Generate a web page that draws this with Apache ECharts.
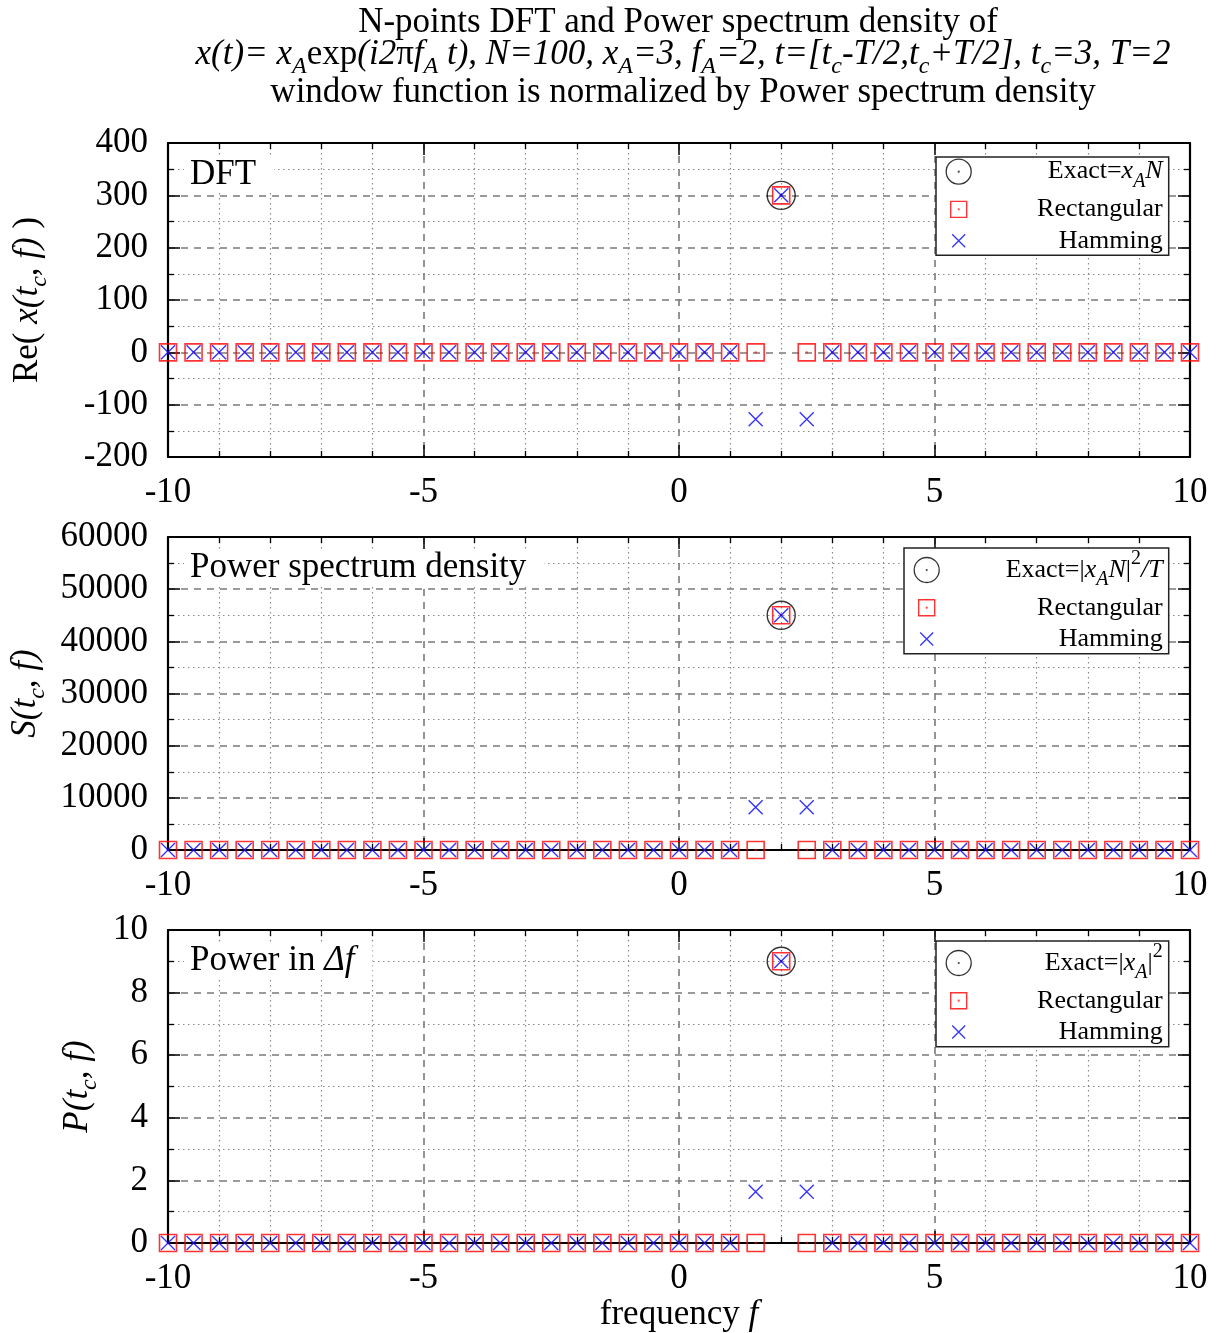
<!DOCTYPE html>
<html>
<head>
<meta charset="utf-8">
<title>N-points DFT and Power spectrum density</title>
<script src="https://cdn.jsdelivr.net/npm/echarts@6.0.0/dist/echarts.min.js"></script>
<style>
  html, body { margin: 0; padding: 0; background: #fff; }
  #chart { width: 1220px; height: 1333px; }
</style>
</head>
<body>
<div id="chart"></div>
<script>
// frequency samples (f = -10 ... 10, step 0.5)
const freq = [
  -10, -9.5, -9, -8.5, -8, -7.5, -7, -6.5, -6, -5.5,
  -5, -4.5, -4, -3.5, -3, -2.5, -2, -1.5, -1, -0.5,
  0, 0.5, 1, 1.5, 2, 2.5, 3, 3.5, 4, 4.5,
  5, 5.5, 6, 6.5, 7, 7.5, 8, 8.5, 9, 9.5,
  10
];

// exact values (only at f = f_A)
const exactFreq = [2];
const dftExact = [300];
const psdExact = [45000];
const powerExact = [9];

// Re( x(t_c, f) )
const dftRect = [
  0, 0, 0, 0, 0, 0, 0, 0, 0, 0,
  0, 0, 0, 0, 0, 0, 0, 0, 0, 0,
  0, 0, 0, 0, 300, 0, 0, 0, 0, 0,
  0, 0, 0, 0, 0, 0, 0, 0, 0, 0,
  0
];
const dftHamming = [
  0, 0, 0, 0, 0, 0, 0, 0, 0, 0,
  0, 0, 0, 0, 0, 0, 0, 0, 0, 0,
  0, 0, 0, -128, 300, -128, 0, 0, 0, 0,
  0, 0, 0, 0, 0, 0, 0, 0, 0, 0,
  0
];

// S(t_c, f)
const psdRect = [
  0, 0, 0, 0, 0, 0, 0, 0, 0, 0,
  0, 0, 0, 0, 0, 0, 0, 0, 0, 0,
  0, 0, 0, 0, 45000, 0, 0, 0, 0, 0,
  0, 0, 0, 0, 0, 0, 0, 0, 0, 0,
  0
];
const psdHamming = [
  0, 0, 0, 0, 0, 0, 0, 0, 0, 0,
  0, 0, 0, 0, 0, 0, 0, 0, 0, 0,
  0, 0, 0, 8190, 45000, 8190, 0, 0, 0, 0,
  0, 0, 0, 0, 0, 0, 0, 0, 0, 0,
  0
];

// P(t_c, f)
const powerRect = [
  0, 0, 0, 0, 0, 0, 0, 0, 0, 0,
  0, 0, 0, 0, 0, 0, 0, 0, 0, 0,
  0, 0, 0, 0, 9, 0, 0, 0, 0, 0,
  0, 0, 0, 0, 0, 0, 0, 0, 0, 0,
  0
];
const powerHamming = [
  0, 0, 0, 0, 0, 0, 0, 0, 0, 0,
  0, 0, 0, 0, 0, 0, 0, 0, 0, 0,
  0, 0, 0, 1.64, 9, 1.64, 0, 0, 0, 0,
  0, 0, 0, 0, 0, 0, 0, 0, 0, 0,
  0
];

// tick labels
const xTicks = [-10, -5, 0, 5, 10];
const dftTicks = [-200, -100, 0, 100, 200, 300, 400];
const psdTicks = [0, 10000, 20000, 30000, 40000, 50000, 60000];
const powerTicks = [0, 2, 4, 6, 8, 10];

const FONT = '"Liberation Serif", "Times New Roman", serif';

// marker shapes
const circleSym = 'path://M24,12A12,12,0,1,1,0,12A12,12,0,1,1,24,12ZM12.35,12A0.35,0.35,0,1,1,11.65,12A0.35,0.35,0,1,1,12.35,12Z';
const squareSym = 'path://M0,0L10,0L10,10L0,10ZM5.2,5A0.2,0.2,0,1,1,4.8,5A0.2,0.2,0,1,1,5.2,5Z';
const crossSym = 'path://M0,0L10,10M10,0L0,10';
// legend icons (padded into a 26x26 box)
const circleIcon = 'path://M0,0M26,26M25.5,13A12.5,12.5,0,1,1,0.5,13A12.5,12.5,0,1,1,25.5,13ZM13.4,13A0.4,0.4,0,1,1,12.6,13A0.4,0.4,0,1,1,13.4,13Z';
const squareIcon = 'path://M0,0M26,26M5,5L21,5L21,21L5,21ZM13.4,13A0.4,0.4,0,1,1,12.6,13A0.4,0.4,0,1,1,13.4,13Z';
const crossIcon = 'path://M0,0M26,26M6.5,6.5L19.5,19.5M19.5,6.5L6.5,19.5';

// sub/superscripts: bottom/top aligned tokens nudged with a negative padding
const richBig = {
  r: { fontFamily: FONT, fontSize: 35, lineHeight: 44, color: '#000' },
  i: { fontFamily: FONT, fontSize: 35, fontStyle: 'italic', lineHeight: 44, color: '#000' },
  s: { fontFamily: FONT, fontSize: 24, fontStyle: 'italic', lineHeight: 10, verticalAlign: 'bottom', padding: [0, 0, -2, 0], color: '#000' }
};
const richLegend = {
  r: { fontFamily: FONT, fontSize: 26, lineHeight: 30, align: 'right', color: '#000' },
  i: { fontFamily: FONT, fontSize: 26, fontStyle: 'italic', lineHeight: 30, align: 'right', color: '#000' },
  s: { fontFamily: FONT, fontSize: 20, fontStyle: 'italic', lineHeight: 10, verticalAlign: 'bottom', padding: [0, 0, -5, 0], align: 'right', color: '#000' },
  p: { fontFamily: FONT, fontSize: 20, lineHeight: 10, verticalAlign: 'top', padding: [-6, 0, 0, 0], align: 'right', color: '#000' }
};

const panels = [
  {
    top: 143, height: 314, ticks: dftTicks, minorSplit: 2,
    exact: dftExact, rect: dftRect, ham: dftHamming,
    exactName: 'Exact=xAN', exactLabel: '{r|Exact=}{i|x}{s|A}{i|N}',
    yName: '{r|Re( }{i|x(t}{s|c}{i|, f)}{r| )}', nameGap: 118,
    label: 'DFT', labelTop: 157,
    legendLeft: 936, legendTop: 157, textWidth: 186
  },
  {
    top: 537, height: 313, ticks: psdTicks, minorSplit: 2,
    exact: psdExact, rect: psdRect, ham: psdHamming,
    exactName: 'Exact=|xAN|^2/T', exactLabel: '{r|Exact=|}{i|x}{s|A}{i|N}{r||}{p|2}{i|/T}',
    yName: '{i|S(t}{s|c}{i|, f)}', nameGap: 118,
    label: 'Power spectrum density', labelTop: 550,
    legendLeft: 904, legendTop: 548, textWidth: 218
  },
  {
    top: 930, height: 313, ticks: powerTicks, minorSplit: 2,
    exact: powerExact, rect: powerRect, ham: powerHamming,
    exactName: 'Exact=|xA|^2', exactLabel: '{r|Exact=|}{i|x}{s|A}{r||}{p|2}',
    yName: '{i|P(t}{s|c}{i|, f)}', nameGap: 58,
    label: '{r|Power in }{i|Δf}', labelTop: 943,
    legendLeft: 936, legendTop: 941, textWidth: 186
  }
];

const legendText = {};
panels.forEach(p => { legendText[p.exactName] = p.exactLabel; });
legendText['Rectangular'] = '{r|Rectangular}';
legendText['Hamming'] = '{r|Hamming}';

const grids = [], xAxes = [], yAxes = [], series = [], legends = [];
const titles = [
  { text: 'N-points DFT and Power spectrum density of', left: 678, top: 5, textAlign: 'center', padding: 0,
    textStyle: { fontFamily: FONT, fontSize: 35, fontWeight: 'normal', lineHeight: 35, color: '#000' } },
  { text: '{i|x(t)= x}{s|A}{r|exp}{i|(i2}{r|π}{i|f}{s|A}{i| t), N=100, x}{s|A}{i|=3, f}{s|A}{i|=2, t=[t}{s|c}{i|-T/2,t}{s|c}{i|+T/2], t}{s|c}{i|=3, T=2}',
    left: 683, top: 33, textAlign: 'center', padding: 0,
    textStyle: { fontFamily: FONT, fontSize: 35, fontWeight: 'normal', color: '#000', rich: richBig } },
  { text: 'window function is normalized by Power spectrum density', left: 683, top: 75, textAlign: 'center', padding: 0,
    textStyle: { fontFamily: FONT, fontSize: 35, fontWeight: 'normal', lineHeight: 35, color: '#000' } }
];

const dashed = { color: '#7a7a7a', width: 1.6, type: [7, 6] };
const dotted = { color: '#8a8a8a', width: 1.2, type: [1.5, 3.5] };
const axisLine = { show: true, onZero: false, lineStyle: { color: '#000', width: 2.2 } };
const axisTick = { show: true, inside: true, length: 12, lineStyle: { color: '#000', width: 1.5 } };
const minorTickLine = { color: '#000', width: 1.3 };
const labelStyle = { color: '#000', fontFamily: FONT, fontSize: 35 };

panels.forEach((p, i) => {
  const yMin = p.ticks[0];
  const yMax = p.ticks[p.ticks.length - 1];
  const yStep = p.ticks[1] - p.ticks[0];
  const xMin = xTicks[0];
  const xMax = xTicks[xTicks.length - 1];
  const xStep = xTicks[1] - xTicks[0];

  grids.push({ left: 168, top: p.top, width: 1022, height: p.height, show: false, outerBoundsMode: 'none' });

  xAxes.push({
    gridIndex: i, type: 'value', min: xMin, max: xMax, interval: xStep,
    axisLine: axisLine, axisTick: axisTick,
    minorTick: { show: true, splitNumber: 5, length: 6, lineStyle: minorTickLine },
    axisLabel: Object.assign({ margin: 18, formatter: v => String(v) }, labelStyle),
    splitLine: { show: true, showMinLine: false, showMaxLine: false, lineStyle: dashed },
    minorSplitLine: { show: true, lineStyle: dotted },
    name: i === 2 ? '{r|frequency }{i|f}' : '',
    nameLocation: 'middle', nameGap: 50,
    nameTextStyle: { rich: richBig }
  });
  xAxes.push({
    gridIndex: i, type: 'value', position: 'top', min: xMin, max: xMax, interval: xStep,
    axisLine: axisLine, axisTick: axisTick,
    minorTick: { show: true, splitNumber: 5, length: 6, lineStyle: minorTickLine },
    axisLabel: { show: false }, splitLine: { show: false }
  });

  yAxes.push({
    gridIndex: i, type: 'value', min: yMin, max: yMax, interval: yStep,
    axisLine: axisLine, axisTick: axisTick,
    minorTick: { show: true, splitNumber: p.minorSplit, length: 6, lineStyle: minorTickLine },
    axisLabel: Object.assign({ margin: 20, formatter: v => String(v) }, labelStyle),
    splitLine: { show: true, showMinLine: false, showMaxLine: false, lineStyle: dashed },
    minorSplitLine: { show: true, lineStyle: dotted },
    name: p.yName, nameLocation: 'middle', nameGap: p.nameGap, nameRotate: 90,
    nameTextStyle: { rich: richBig }
  });
  yAxes.push({
    gridIndex: i, type: 'value', position: 'right', min: yMin, max: yMax, interval: yStep,
    axisLine: axisLine, axisTick: axisTick,
    minorTick: { show: true, splitNumber: p.minorSplit, length: 6, lineStyle: minorTickLine },
    axisLabel: { show: false }, splitLine: { show: false }
  });

  const common = { type: 'scatter', xAxisIndex: 2 * i, yAxisIndex: 2 * i, clip: false, silent: true };
  series.push(Object.assign({
    name: p.exactName, z: 2,
    data: exactFreq.map((f, k) => [f, p.exact[k]]),
    symbol: circleSym, symbolSize: 28,
    itemStyle: { color: 'transparent', borderColor: '#000', borderWidth: 1.4 }
  }, common));
  series.push(Object.assign({
    name: 'Rectangular', z: 3,
    data: freq.map((f, k) => [f, p.rect[k]]),
    symbol: squareSym, symbolSize: 17,
    itemStyle: { color: 'transparent', borderColor: '#ff0000', borderWidth: 1.6 }
  }, common));
  series.push(Object.assign({
    name: 'Hamming', z: 4,
    data: freq.map((f, k) => [f, p.ham[k]]),
    symbol: crossSym, symbolSize: 14,
    itemStyle: { color: 'transparent', borderColor: '#0000ff', borderWidth: 1.4 }
  }, common));

  legends.push({
    left: p.legendLeft, top: p.legendTop, orient: 'vertical', align: 'left',
    itemWidth: 26, itemHeight: 26, itemGap: 4, padding: [1, 6, 1, 9],
    backgroundColor: '#fff', borderColor: '#222', borderWidth: 1.5,
    selectedMode: false,
    data: [
      { name: p.exactName, icon: circleIcon, itemStyle: { color: 'transparent', borderColor: '#000', borderWidth: 1.3 } },
      { name: 'Rectangular', icon: squareIcon, itemStyle: { color: 'transparent', borderColor: '#ff0000', borderWidth: 1.4 } },
      { name: 'Hamming', icon: crossIcon, itemStyle: { color: 'transparent', borderColor: '#0000ff', borderWidth: 1.3 } }
    ],
    formatter: name => legendText[name],
    textStyle: { fontFamily: FONT, fontSize: 26, color: '#000', width: p.textWidth, rich: richLegend }
  });

  titles.push({
    text: p.label, left: 184, top: p.labelTop, padding: [0, 18, 0, 6],
    backgroundColor: '#fff',
    textStyle: {
      fontFamily: FONT, fontSize: 35, fontWeight: 'normal', lineHeight: 35, color: '#000',
      rich: {
        r: { fontFamily: FONT, fontSize: 35, lineHeight: 35, color: '#000' },
        i: { fontFamily: FONT, fontSize: 35, fontStyle: 'italic', lineHeight: 35, color: '#000' }
      }
    }
  });
});

const chart = echarts.init(document.getElementById('chart'));
chart.setOption({
  animation: false,
  backgroundColor: '#fff',
  title: titles,
  grid: grids,
  xAxis: xAxes,
  yAxis: yAxes,
  legend: legends,
  series: series
});
</script>
</body>
</html>
